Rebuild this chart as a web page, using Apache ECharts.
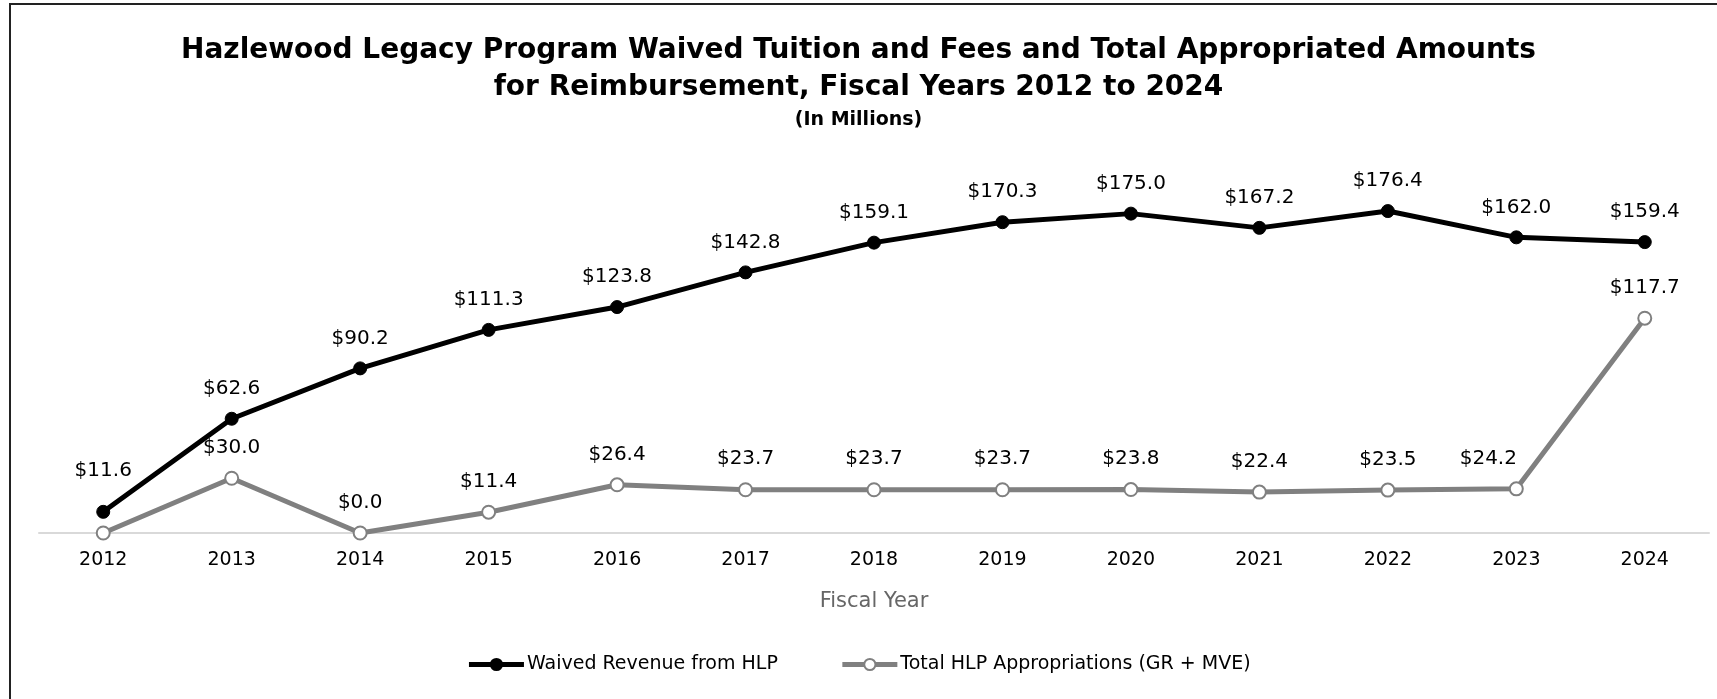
<!DOCTYPE html>
<html>
<head>
<meta charset="utf-8">
<script src="https://cdn.jsdelivr.net/npm/echarts@6/dist/echarts.min.js"></script>
<style>
  html, body { margin: 0; padding: 0; background: #fff; }
  #chartWrap { width: 1717px; height: 699px; position: relative; }
  #frame { position: absolute; left: 9px; top: 3px; right: 0; bottom: 0;
           border-top: 2px solid #222; border-left: 2px solid #222; pointer-events: none; }
</style>
</head>
<body>
<div id="chartWrap"></div>
<div id="frame"></div>
<script>
// fiscal years
const years = ['2012', '2013', '2014', '2015', '2016', '2017', '2018',
  '2019', '2020', '2021', '2022', '2023', '2024']

// in millions
const waivedRevenue = [11.6, 62.6, 90.2, 111.3, 123.8, 142.8, 159.1,
  170.3, 175.0, 167.2, 176.4, 162.0, 159.4]
const appropriations = [0.0, 30.0, 0.0, 11.4, 26.4, 23.7, 23.7,
  23.7, 23.8, 22.4, 23.5, 24.2, 117.7]

const font = '"DejaVu Sans", "Noto Sans", sans-serif'

const labelStyle = {
  show: true,
  position: 'top',
  distance: 13,
  fontSize: 20,
  color: '#000',
  fontFamily: font,
  formatter: p => '$' + p.value.toFixed(1)
}

// 2012 appropriations label is covered by the other series in the original
const apprData = appropriations.map((v, i) => i === 0 ? { value: v, label: { show: false } }
  : i === 11 ? { value: v, label: { offset: [-28, 0] } } : v)
const waivedData = waivedRevenue.map((v, i) => i === 0 ? { value: v, label: { distance: 24 } } : v)

const chart = echarts.init(document.getElementById('chartWrap'))
chart.setOption({
  animation: false,
  backgroundColor: '#fff',
  title: {
    text: 'Hazlewood Legacy Program Waived Tuition and Fees and Total Appropriated Amounts\nfor Reimbursement, Fiscal Years 2012 to 2024',
    subtext: '(In Millions)',
    left: 'center',
    top: 27,
    itemGap: 5,
    textStyle: { fontFamily: font, fontWeight: 'bold', fontSize: 28, lineHeight: 37, color: '#000' },
    subtextStyle: { fontFamily: font, fontWeight: 'bold', fontSize: 19, color: '#000' }
  },
  grid: { left: 39, right: 8, top: 168, bottom: 166, containLabel: false },
  xAxis: {
    type: 'category',
    data: years,
    boundaryGap: true,
    name: 'Fiscal Year',
    nameLocation: 'middle',
    nameGap: 58,
    nameTextStyle: { fontFamily: font, fontSize: 21, color: '#666' },
    axisLine: { lineStyle: { color: '#d9d9d9', width: 2 } },
    axisTick: { show: false },
    axisLabel: { fontFamily: font, fontSize: 19, color: '#000', margin: 18 }
  },
  yAxis: {
    type: 'value',
    min: 0,
    max: 200,
    show: false
  },
  legend: {
    bottom: 20,
    left: 'center',
    itemWidth: 55,
    itemHeight: 14,
    itemGap: 62,
    lineStyle: { width: 5 },
    textStyle: { fontFamily: font, fontSize: 19, color: '#000', padding: [0, 0, 0, -2] },
    data: ['Waived Revenue from HLP', 'Total HLP Appropriations (GR + MVE)']
  },
  series: [
    {
      name: 'Waived Revenue from HLP',
      type: 'line',
      data: waivedData,
      symbol: 'circle',
      symbolSize: 13,
      z: 3,
      lineStyle: { color: '#000', width: 5 },
      itemStyle: { color: '#000', borderColor: '#000', borderWidth: 1 },
      label: labelStyle
    },
    {
      name: 'Total HLP Appropriations (GR + MVE)',
      type: 'line',
      data: apprData,
      symbol: 'circle',
      symbolSize: 13,
      z: 2,
      lineStyle: { color: '#808080', width: 5 },
      itemStyle: { color: '#fff', borderColor: '#808080', borderWidth: 2 },
      label: labelStyle
    }
  ]
})
</script>
</body>
</html>
